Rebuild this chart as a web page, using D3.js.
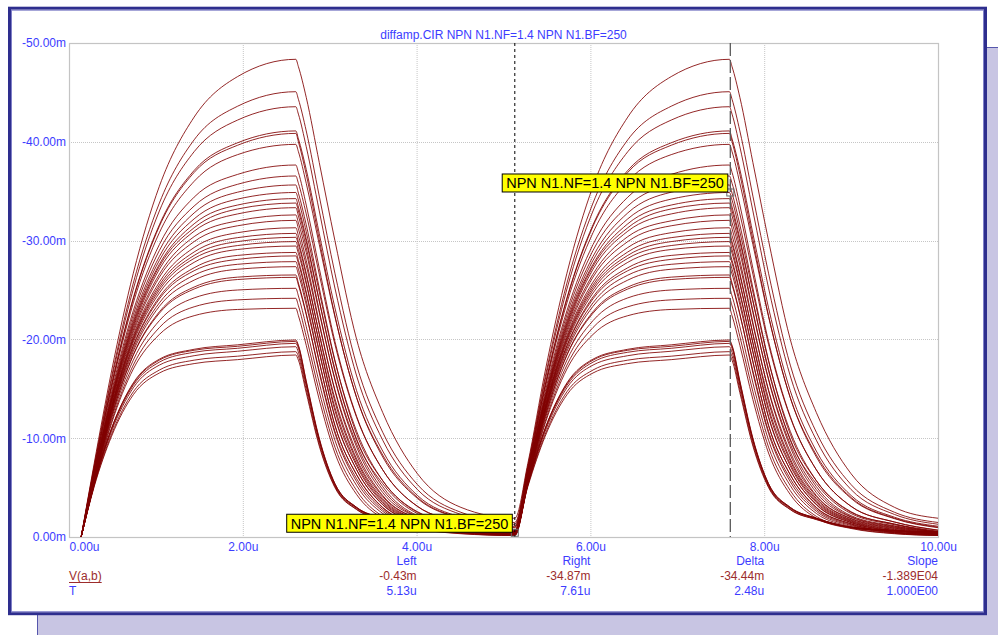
<!DOCTYPE html>
<html>
<head>
<meta charset="utf-8">
<script src="https://cdn.jsdelivr.net/npm/d3@7"></script>
<style>
body { margin: 0; background: #fff; }
svg { display: block; font-family: Arial, "Liberation Sans", sans-serif; }
</style>
</head>
<body>
<svg id="chart" width="998" height="635"></svg>
<script>
// time samples (u) for the two pulses
var tRise1 = [0.14, 0.29, 0.49, 0.74, 1.04, 1.44, 1.94, 2.61];
var tFall1 = [2.64, 2.73, 2.88, 3.06, 3.31, 3.61, 4.01, 4.51, 5.13];
var tRise2 = [5.28, 5.48, 5.73, 6.03, 6.43, 6.93, 7.60];
var tFall2 = [7.63, 7.72, 7.87, 8.05, 8.30, 8.60, 9.00, 9.50, 10.00];

// V(a,b) magnitude (m) for each stepped curve
// rise: values at the rise samples after the start, last one = plateau
var riseVals = [
  [7.45, 16.8, 26.7, 35.5, 42.5, 46.6, 48.35],
  [7.2, 16.2, 25.7, 33.8, 40.2, 43.6, 45.07],
  [7.07, 15.9, 25.1, 33.0, 39.0, 42.2, 43.55],
  [6.85, 15.4, 24.2, 31.6, 37.1, 39.9, 41.1],
  [6.84, 15.35, 24.1, 31.45, 36.9, 39.65, 40.85],
  [6.74, 15.1, 23.7, 30.8, 36.0, 38.7, 39.74],
  [6.56, 14.7, 22.9, 29.6, 34.4, 36.7, 37.65],
  [6.47, 14.4, 22.5, 29.0, 33.5, 35.7, 36.54],
  [6.39, 14.2, 22.1, 28.4, 32.8, 34.9, 35.63],
  [6.32, 14.1, 21.8, 28.0, 32.2, 34.2, 34.87],
  [6.27, 13.96, 21.6, 27.6, 31.7, 33.6, 34.25],
  [6.23, 13.85, 21.4, 27.4, 31.3, 33.2, 33.8],
  [6.2, 13.76, 21.2, 27.1, 30.95, 32.7, 33.33],
  [6.14, 13.6, 20.95, 26.6, 30.4, 32.0, 32.6],
  [6.09, 13.5, 20.7, 26.3, 29.9, 31.5, 32.05],
  [6.01, 13.3, 20.4, 25.8, 29.3, 30.8, 31.3],
  [5.97, 13.2, 20.2, 25.5, 28.85, 30.3, 30.73],
  [5.94, 13.1, 20.05, 25.25, 28.5, 29.9, 30.33],
  [5.9, 13.0, 19.9, 25.0, 28.2, 29.5, 29.9],
  [5.86, 12.9, 19.7, 24.7, 27.8, 29.1, 29.45],
  [5.8, 12.8, 19.4, 24.3, 27.25, 28.5, 28.8],
  [5.77, 12.7, 19.3, 24.1, 26.95, 28.1, 28.45],
  [5.72, 12.6, 19.05, 23.7, 26.5, 27.6, 27.87],
  [5.68, 12.46, 18.8, 23.35, 26.0, 27.1, 27.36],
  [5.6, 12.26, 18.46, 22.8, 25.3, 26.3, 26.52],
  [5.59, 12.2, 18.4, 22.65, 25.1, 26.06, 26.28],
  [5.49, 11.98, 17.9, 21.9, 24.2, 25.0, 25.17],
  [5.4, 11.7, 17.4, 21.2, 23.3, 24.0, 24.16],
  [5.31, 11.5, 17.0, 20.5, 22.4, 23.03, 23.15],
  [5.4, 11.0, 15.6, 18.0, 19.0, 19.45, 19.94],
  [5.4, 11.0, 15.5, 17.9, 18.9, 19.3, 19.8],
  [5.35, 10.9, 15.35, 17.7, 18.7, 19.1, 19.6],
  [5.3, 10.7, 15.1, 17.4, 18.35, 18.8, 19.26],
  [5.2, 10.4, 14.7, 16.9, 17.9, 18.3, 18.76],
  [5.1, 10.2, 14.4, 16.6, 17.55, 17.95, 18.42]
];
// fall: values at the fall samples
var fallVals = [
  [47.6, 44.5, 37.9, 30.0, 20.0, 12.6, 6.4, 3.0, 1.9],
  [44.3, 41.1, 34.5, 26.7, 17.4, 10.6, 5.3, 2.5, 1.47],
  [42.8, 39.5, 33.0, 25.2, 16.3, 9.8, 4.8, 2.28, 1.29],
  [40.3, 37.2, 30.7, 23.2, 14.8, 8.7, 4.2, 2.0, 1.09],
  [40.0, 36.7, 30.1, 22.4, 14.1, 8.1, 3.9, 1.85, 0.94],
  [39.0, 35.8, 29.6, 22.3, 14.1, 8.3, 4.0, 1.9, 1.0],
  [36.9, 33.6, 27.2, 19.8, 12.2, 6.8, 3.1, 1.51, 0.68],
  [35.8, 32.7, 26.6, 19.5, 12.1, 6.8, 3.1, 1.52, 0.70],
  [34.8, 31.6, 25.2, 17.9, 10.4, 5.7, 2.5, 1.31, 0.58],
  [34.1, 30.9, 24.8, 17.8, 10.7, 5.7, 2.56, 1.30, 0.43],
  [33.4, 30.2, 23.9, 16.8, 9.9, 5.1, 2.16, 1.13, 0.52],
  [33.0, 29.9, 23.9, 17.0, 9.8, 5.4, 2.37, 1.24, 0.55],
  [32.5, 29.3, 22.9, 15.9, 9.1, 4.5, 2.0, 1.02, 0.48],
  [31.8, 28.8, 22.7, 16.0, 9.4, 4.8, 2.06, 1.08, 0.50],
  [31.2, 28.0, 21.7, 14.8, 8.3, 4.1, 1.84, 0.90, 0.43],
  [30.5, 27.5, 21.5, 14.9, 8.6, 4.2, 1.88, 0.96, 0.45],
  [29.9, 26.7, 20.5, 13.7, 7.7, 3.75, 1.68, 0.77, 0.37],
  [29.6, 26.5, 20.6, 14.0, 7.9, 3.9, 1.74, 0.85, 0.40],
  [29.1, 25.8, 19.6, 12.8, 7.2, 3.47, 1.55, 0.66, 0.33],
  [28.7, 25.6, 19.7, 13.1, 7.4, 3.6, 1.61, 0.74, 0.36],
  [28.0, 24.8, 18.8, 12.1, 6.8, 3.25, 1.45, 0.60, 0.30],
  [27.7, 24.6, 18.7, 12.2, 6.8, 3.3, 1.47, 0.63, 0.31],
  [27.1, 23.9, 17.8, 11.3, 6.3, 2.95, 1.32, 0.50, 0.25],
  [26.6, 23.5, 17.7, 11.3, 6.3, 3.0, 1.34, 0.52, 0.27],
  [25.7, 22.6, 16.6, 10.5, 5.6, 2.6, 1.16, 0.44, 0.20],
  [25.5, 22.5, 16.8, 10.7, 5.9, 2.78, 1.24, 0.47, 0.24],
  [24.4, 21.3, 15.6, 9.8, 5.2, 2.38, 1.06, 0.41, 0.18],
  [23.4, 20.3, 14.7, 9.1, 4.7, 2.09, 0.93, 0.36, 0.16],
  [22.4, 19.4, 13.9, 8.5, 4.3, 1.91, 0.86, 0.33, 0.15],
  [19.4, 15.8, 10.0, 5.4, 3.0, 1.9, 1.0, 0.65, 0.45],
  [19.3, 15.7, 9.9, 5.4, 3.0, 1.9, 1.0, 0.65, 0.45],
  [19.1, 15.5, 9.8, 5.3, 2.95, 1.87, 0.98, 0.64, 0.44],
  [18.7, 15.3, 9.7, 5.2, 2.9, 1.84, 0.97, 0.63, 0.43],
  [18.3, 14.9, 9.4, 5.1, 2.8, 1.79, 0.94, 0.61, 0.42],
  [17.9, 14.6, 9.2, 5.0, 2.77, 1.76, 0.92, 0.6, 0.42]
];

var xTicks = [0, 2, 4, 6, 8, 10];
var yTicks = [0, -10, -20, -30, -40, -50];

var title = "diffamp.CIR NPN N1.NF=1.4 NPN N1.BF=250";
var labelText = "NPN N1.NF=1.4 NPN N1.BF=250";
// cursors: time and the value of the tagged curve there
var cursorT = [5.13, 7.61];
var cursorV = [-0.43, -34.87];

// readout table under the plot
var readHead = ["Left", "Right", "Delta", "Slope"];
var readV = ["-0.43m", "-34.87m", "-34.44m", "-1.389E04"];
var readT = ["5.13u", "7.61u", "2.48u", "1.000E00"];
var readAt = [4, 6, 8, 10];

var blue = "#3c3cff", wine = "#9c2c2c", trace = "#800000";

var svg = d3.select("#chart");

// shadow + panel
svg.append("rect")
  .attr("x", 37.5).attr("y", 47.5).attr("width", 980).attr("height", 600)
  .attr("fill", "#c8c5e3").attr("stroke", "#5656ac");
svg.append("rect")
  .attr("x", 9.5).attr("y", 8.2).attr("width", 976).attr("height", 605.5)
  .attr("fill", "#fff").attr("stroke", "#2e2e8e").attr("stroke-width", 3);
svg.append("rect")
  .attr("x", 11.5).attr("y", 10.2).attr("width", 972).attr("height", 601.5)
  .attr("fill", "none").attr("stroke", "#8080c8").attr("stroke-width", 1);

var x = d3.scaleLinear().domain([0, 10]).range([69, 938]);
var y = d3.scaleLinear().domain([0, -50]).range([537, 43]);

// grid
var grid = svg.append("g").attr("stroke", "#c6c6c6").attr("stroke-dasharray", "1,1");
grid.selectAll(".gx").data(xTicks.slice(1, -1)).join("line")
  .attr("x1", d => x(d) + 0.5).attr("x2", d => x(d) + 0.5)
  .attr("y1", y(-50)).attr("y2", y(0));
grid.selectAll(".gy").data(yTicks.slice(1, -1)).join("line")
  .attr("y1", d => Math.round(y(d)) + 0.5).attr("y2", d => Math.round(y(d)) + 0.5)
  .attr("x1", x(0)).attr("x2", x(10));

svg.append("rect")
  .attr("x", x(0) + 0.5).attr("y", y(-50) + 0.5)
  .attr("width", x(10) - x(0)).attr("height", y(0) - y(-50))
  .attr("fill", "none").attr("stroke", "#c4c4c4").attr("stroke-width", 1.2);

// axes
var yAxis = svg.append("g").attr("transform", "translate(" + x(0) + ",0)")
  .call(d3.axisLeft(y).tickValues(yTicks).tickSize(0).tickPadding(3)
    .tickFormat(d => d.toFixed(2) + "m"));
var xAxis = svg.append("g").attr("transform", "translate(0," + y(0) + ")")
  .call(d3.axisBottom(x).tickValues(xTicks).tickSize(0).tickPadding(5)
    .tickFormat(d => d.toFixed(2) + "u"));
[yAxis, xAxis].forEach(g => {
  g.select(".domain").remove();
  g.selectAll("text").attr("fill", blue)
    .style("font-family", "Arial, 'Liberation Sans', sans-serif").style("font-size", "12px");
});
xAxis.selectAll("text").filter(d => d === 0).attr("text-anchor", "start");

// title
svg.append("text").attr("x", (x(0) + x(10)) / 2).attr("y", 39)
  .attr("text-anchor", "middle").attr("fill", blue).style("font-size", "12px")
  .text(title);

// curves
var times = tRise1.concat(tFall1, tRise2, tFall2);
var series = riseVals.map((r, i) => {
  var vals = [0].concat(r, fallVals[i], r, fallVals[i]);
  return vals.map((v, j) => [times[j], -v]);
});

svg.append("clipPath").attr("id", "clip").append("rect")
  .attr("x", x(0)).attr("y", y(-50)).attr("width", x(10) - x(0)).attr("height", y(0) - y(-50));

var line = d3.line().x(d => x(d[0])).y(d => y(d[1])).curve(d3.curveMonotoneX);
svg.append("g").attr("clip-path", "url(#clip)")
  .selectAll("path").data(series).join("path")
  .attr("d", line)
  .attr("fill", "none").attr("stroke", trace).attr("stroke-width", 0.85)
  .attr("stroke-linejoin", "round");

// cursors
svg.append("line")
  .attr("x1", x(cursorT[0])).attr("x2", x(cursorT[0]))
  .attr("y1", y(-50)).attr("y2", y(0))
  .attr("stroke", "#000").attr("stroke-dasharray", "3,3");
svg.append("line")
  .attr("x1", x(cursorT[1])).attr("x2", x(cursorT[1]))
  .attr("y1", y(-50)).attr("y2", y(0))
  .attr("stroke", "#5a5a5a").attr("stroke-width", 1.3).attr("stroke-dasharray", "13,4");

// tags
cursorT.forEach((t, i) => {
  var px = x(t), py = y(cursorV[i]);
  svg.append("rect")
    .attr("x", px - 3.5).attr("y", py - 3.5).attr("width", 7).attr("height", 7)
    .attr("fill", "none").attr("stroke", "#6a6a6a");
  var g = svg.append("g");
  var txt = g.append("text").style("font-size", "14.5px").attr("fill", "#000").text(labelText);
  var w = txt.node().getComputedTextLength();
  var bx = px - 3 - (w + 8), by = py - 19;
  g.insert("rect", "text")
    .attr("x", bx + 0.5).attr("y", by + 0.5).attr("width", w + 8).attr("height", 18)
    .attr("fill", "#ffff00").attr("stroke", "#000");
  txt.attr("x", bx + 4.5).attr("y", by + 15);
});

// readouts
var rows = [[readHead, blue, 565], [readV, wine, 580], [readT, blue, 595]];
rows.forEach(r => {
  svg.append("g").selectAll("text").data(r[0]).join("text")
    .attr("x", (d, i) => x(readAt[i])).attr("y", r[2])
    .attr("text-anchor", "end").attr("fill", r[1]).style("font-size", "12px")
    .text(d => d);
});
var vLab = svg.append("text").attr("x", x(0)).attr("y", 580)
  .attr("fill", wine).style("font-size", "12px").text("V(a,b)");
svg.append("line")
  .attr("x1", x(0)).attr("x2", x(0) + vLab.node().getComputedTextLength())
  .attr("y1", 582.5).attr("y2", 582.5).attr("stroke", wine);
svg.append("text").attr("x", x(0)).attr("y", 595)
  .attr("fill", blue).style("font-size", "12px").text("T");
</script>
</body>
</html>
